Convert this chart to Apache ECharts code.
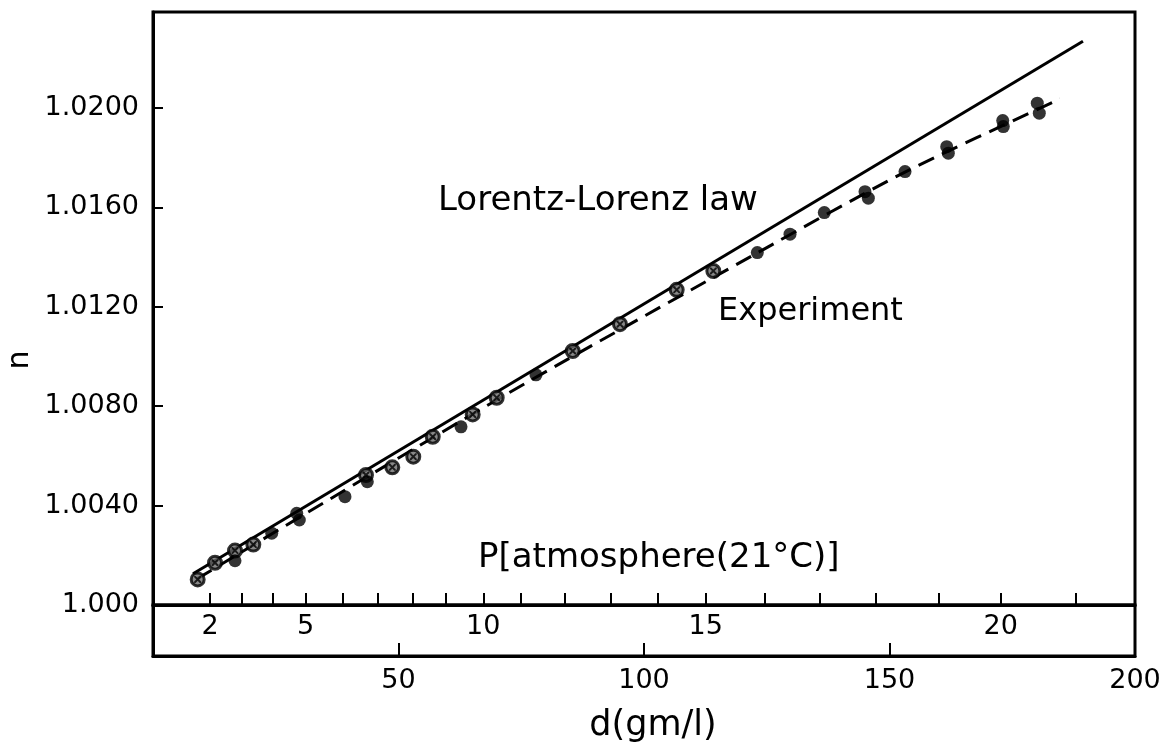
<!DOCTYPE html>
<html>
<head>
<meta charset="utf-8">
<title>Lorentz-Lorenz law vs experiment</title>
<script src="https://cdn.jsdelivr.net/npm/echarts@6/dist/echarts.min.js"></script>
<style>
  html, body { margin: 0; padding: 0; background: #fff; }
  #main { width: 1170px; height: 744px; }
</style>
</head>
<body>
<div id="main"></div>
<script>
// P[atmosphere] scale, drawn on the n = 1.000 line (ticks placed at their density d)
var pTickValues = [2, 3, 4, 5, 6, 7, 8, 9, 10, 11, 12, 13, 14, 15, 16, 17, 18, 19, 20, 21]
var pTickD = [11.61, 18.07, 24.30, 31.10, 38.55, 45.68, 52.89, 59.68, 67.27, 74.95,
  83.91, 93.22, 102.79, 112.57, 124.65, 135.85, 147.25, 159.94, 172.65, 187.99]
var pLabelValues = [2, 5, 10, 15, 20]

// d(gm/l) axis and n axis
var dTicks = [50, 100, 150, 200]
var nTicks = [1.000, 1.004, 1.008, 1.012, 1.016, 1.020]
var nTickLabels = ['1.000', '1.0040', '1.0080', '1.0120', '1.0160', '1.0200']

// measured points [d, n]
var ringPoints = [
  [9.10, 1.00103], [12.63, 1.00170], [16.70, 1.00219], [20.43, 1.00243],
  [43.38, 1.00523], [48.74, 1.00554], [53.01, 1.00597], [56.97, 1.00677],
  [65.11, 1.00767], [70.00, 1.00834], [85.48, 1.01022], [95.11, 1.01130],
  [106.66, 1.01268], [114.12, 1.01344]
]
var dotPoints = [
  [16.70, 1.00178], [24.18, 1.00289], [29.27, 1.00369], [29.80, 1.00342],
  [39.10, 1.00436], [43.65, 1.00496], [62.73, 1.00717], [78.00, 1.00926],
  [123.08, 1.01418], [129.74, 1.01492], [136.72, 1.01579], [145.01, 1.01663],
  [145.69, 1.01637], [153.16, 1.01744], [161.65, 1.01844], [161.98, 1.01818],
  [173.06, 1.01949], [173.18, 1.01925], [180.10, 1.02019], [180.51, 1.01979]
]

// the two curves
var lorentzLine = [[8.15, 1.00126], [189.4, 1.02268]]
var experimentLine = [[8.96, 1.00105], [70.67, 1.00833], [123.02, 1.01416], [153.16, 1.01742], [184.73, 1.02036]]

var font = 'DejaVu Sans'
var pLabelD = pLabelValues.map(function (p) {
  return pTickD[pTickValues.indexOf(p)]
})
// small cross drawn inside the open points
var crossPath = 'path://M0,0 L2,0 L10,8 L10,10 L8,10 L0,2 Z M10,0 L10,2 L2,10 L0,10 L0,8 L8,0 Z'

var chart = echarts.init(document.getElementById('main'), null, { renderer: 'canvas' })

var option = {
  backgroundColor: '#fff',
  animation: false,
  grid: [{
    left: 153, right: 35, top: 12, height: 593,
    show: true, borderColor: '#000', borderWidth: 3
  }, {
    left: 153, right: 35, top: 605, height: 54,
    show: true, borderColor: '#000', borderWidth: 3
  }],
  xAxis: [{
    // pressure scale
    gridIndex: 0,
    type: 'value',
    min: 0,
    max: 200,
    position: 'bottom',
    axisLine: { show: true, lineStyle: { color: '#000', width: 3 } },
    axisTick: {
      show: true, inside: true, length: 12,
      customValues: pTickD,
      lineStyle: { color: '#000', width: 2 }
    },
    axisLabel: {
      show: true, margin: 8,
      customValues: pLabelD,
      formatter: function (v) {
        return String(pTickValues[pTickD.indexOf(v)])
      },
      color: '#000', fontFamily: font, fontSize: 27
    },
    splitLine: { show: false }
  }, {
    // density scale
    gridIndex: 1,
    type: 'value',
    min: 0,
    max: 200,
    position: 'bottom',
    name: 'd(gm/l)',
    nameLocation: 'middle',
    nameGap: 52,
    nameTextStyle: { color: '#000', fontFamily: font, fontSize: 35, padding: [0, 0, 0, 18] },
    axisLine: { show: true, lineStyle: { color: '#000', width: 3 } },
    axisTick: {
      show: true, inside: true, length: 13,
      customValues: dTicks,
      lineStyle: { color: '#000', width: 2 }
    },
    axisLabel: {
      show: true, margin: 11,
      customValues: dTicks,
      color: '#000', fontFamily: font, fontSize: 27
    },
    splitLine: { show: false }
  }],
  yAxis: [{
    gridIndex: 0,
    type: 'value',
    min: 1.000,
    max: 1.02386,
    axisLine: { show: true, lineStyle: { color: '#000', width: 3 } },
    axisTick: {
      show: true, inside: true, length: 10,
      customValues: nTicks,
      lineStyle: { color: '#000', width: 2 }
    },
    axisLabel: {
      show: true, margin: 14,
      customValues: nTicks,
      formatter: function (v) {
        return nTickLabels[nTicks.indexOf(v)]
      },
      color: '#000', fontFamily: font, fontSize: 27
    },
    splitLine: { show: false }
  }, {
    gridIndex: 1,
    type: 'value',
    min: 0,
    max: 1,
    axisLine: { show: true, lineStyle: { color: '#000', width: 3 } },
    axisTick: { show: false },
    axisLabel: { show: false },
    splitLine: { show: false }
  }],
  graphic: [{
    type: 'text', left: 438, top: 184,
    style: { text: 'Lorentz-Lorenz law', fontFamily: font, fontSize: 34, fill: '#000' }
  }, {
    type: 'text', left: 718, top: 296,
    style: { text: 'Experiment', fontFamily: font, fontSize: 32, fill: '#000' }
  }, {
    type: 'text', left: 478, top: 541,
    style: { text: 'P[atmosphere(21°C)]', fontFamily: font, fontSize: 34, fill: '#000' }
  }, {
    type: 'text', x: 20, y: 360, rotation: Math.PI / 2,
    style: { text: 'n', fontFamily: font, fontSize: 30, fill: '#000', align: 'center', verticalAlign: 'middle' }
  }],
  series: [{
    name: 'Lorentz-Lorenz law',
    type: 'line',
    xAxisIndex: 0, yAxisIndex: 0,
    data: lorentzLine,
    showSymbol: false,
    lineStyle: { color: '#000', width: 3 },
    z: 2
  }, {
    name: 'Experiment',
    type: 'line',
    xAxisIndex: 0, yAxisIndex: 0,
    data: experimentLine,
    smooth: 0.25,
    showSymbol: false,
    lineStyle: { color: '#000', width: 3, type: [17, 9] },
    z: 2
  }, {
    name: 'open points',
    type: 'scatter',
    xAxisIndex: 0, yAxisIndex: 0,
    data: ringPoints,
    symbol: 'circle',
    symbolSize: 13,
    itemStyle: { color: '#6a6a6a', borderColor: '#000', borderWidth: 3 },
    z: 3
  }, {
    name: 'open points cross',
    type: 'scatter',
    xAxisIndex: 0, yAxisIndex: 0,
    data: ringPoints,
    symbol: crossPath,
    symbolSize: 7,
    itemStyle: { color: '#000' },
    z: 4
  }, {
    name: 'filled points',
    type: 'scatter',
    xAxisIndex: 0, yAxisIndex: 0,
    data: dotPoints,
    symbol: 'circle',
    symbolSize: 13,
    itemStyle: { color: '#000' },
    z: 3
  }]
}
chart.setOption(option)
</script>
</body>
</html>
